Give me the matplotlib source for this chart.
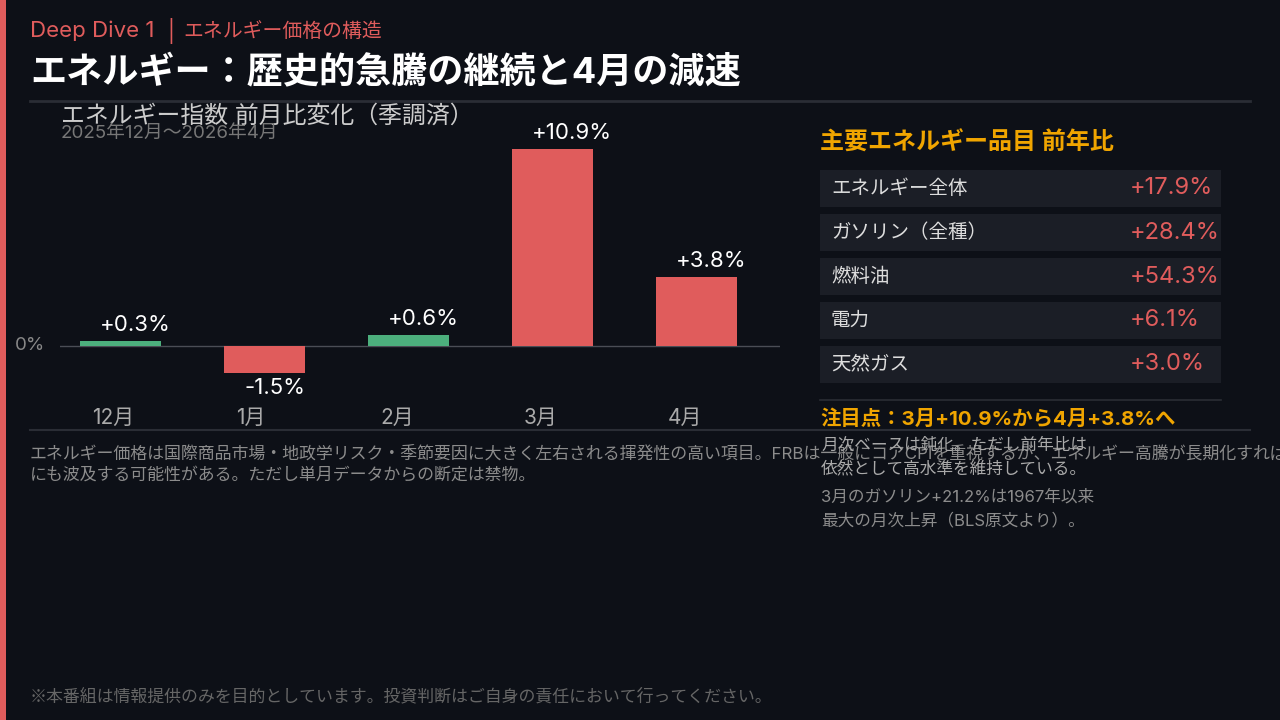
import matplotlib
matplotlib.use("Agg")
import matplotlib.pyplot as plt
from matplotlib.patches import Rectangle
from matplotlib.lines import Line2D
from matplotlib import transforms

plt.rcParams['font.family'] = ['Inter', 'Noto Sans CJK JP', 'DejaVu Sans']
CJK = ['Noto Sans CJK JP', 'DejaVu Sans']

# ---- data ----
months = ['12月', '1月', '2月', '3月', '4月']
mom_change = [0.3, -1.5, 0.6, 10.9, 3.8]
items = ['エネルギー全体', 'ガソリン（全種）', '燃料油', '電力', '天然ガス']
yoy_change = [17.9, 28.4, 54.3, 6.1, 3.0]

# ---- style ----
BG = '#0d1017'
RED = '#e05c5c'
GREEN = '#4caf7d'
ORANGE = '#f0a500'
LINE = '#2a2d35'
bar_colors = [GREEN, RED, GREEN, RED, RED]

W, H = 1280, 720
fig = plt.figure(figsize=(12.8, 7.2), dpi=100, facecolor=BG)


def fx(x):
    return x / W


def fy(y):
    return 1 - y / H


def ftext(x, y, s, **kw):
    kw.setdefault('va', 'center')
    kw.setdefault('ha', 'left')
    return fig.text(fx(x), fy(y), s, **kw)


def hline(x0, x1, y, color=LINE, lw=1.5):
    fig.add_artist(Line2D([fx(x0), fx(x1)], [fy(y), fy(y)], color=color, lw=lw,
                          transform=fig.transFigure))


# left accent strip
fig.add_artist(Rectangle((0, 0), fx(6), 1, transform=fig.transFigure,
                         facecolor=RED, edgecolor='none'))

# header
ftext(30, 31, 'Deep Dive 1', color=RED, fontsize=16)
ftext(167, 31, '|', color=RED, fontsize=15)
ftext(183, 31, 'エネルギー価格の構造', color=RED, fontsize=14.3, family=CJK)
ftext(30, 73, 'エネルギー：歴史的急騰の継続と4月の減速', color='white',
      fontsize=26, fontweight='bold')
hline(30, 1250, 101, lw=2)

# ---- bar chart ----
ax_l, ax_r, ax_t, ax_b = 60, 780, 140, 400
ax = fig.add_axes([fx(ax_l), fy(ax_b), fx(ax_r - ax_l), (ax_b - ax_t) / H])
ax.set_facecolor('none')
px_per_cat = 144.0
zero_y = 346.0
px_per_unit = 197.0 / 10.9
ax.set_xlim(-(120 - ax_l) / px_per_cat, 4 + (ax_r - 696) / px_per_cat)
ax.set_ylim(-(ax_b - zero_y) / px_per_unit, (zero_y - ax_t) / px_per_unit)
for s in ax.spines.values():
    s.set_visible(False)
ax.set_xticks([])
ax.set_yticks([])

xs = list(range(len(months)))
ax.bar(xs, mom_change, width=81 / px_per_cat, color=bar_colors, zorder=2)
ax.axhline(0, color='#4a4d55', lw=1, zorder=1)

for i, v in enumerate(mom_change):
    off = 16 if v >= 0 else -15
    tr = transforms.offset_copy(ax.transData, fig=fig, x=0, y=off, units='dots')
    ax.text(i - 20 / px_per_cat, v, f'{v:+.1f}%', transform=tr, color='white',
            fontsize=16, ha='left', va='center', clip_on=False)

btr = transforms.blended_transform_factory(ax.transData, fig.transFigure)
for i, m in enumerate(months):
    ax.text(i - 28 / px_per_cat, fy(418), m, transform=btr, color='#aaaaaa',
            fontsize=15, ha='left', va='center', clip_on=False)

ftext(15, 345, '0%', color='#888888', fontsize=13.5)
ftext(61, 116, 'エネルギー指数 前月比変化（季調済）', color='#cccccc', fontsize=17.2)
ftext(61, 133, '2025年12月〜2026年4月', color='#777777', fontsize=13.5)

# ---- right panel ----
ftext(820, 143, '主要エネルギー品目 前年比', color=ORANGE, fontsize=17.3, fontweight='bold')
for k, (name, val) in enumerate(zip(items, yoy_change)):
    top = 170 + 44 * k
    fig.add_artist(Rectangle((fx(820), fy(top + 37)), fx(401), 37 / H,
                             transform=fig.transFigure, facecolor='#1b1e26',
                             edgecolor='none'))
    ftext(831, top + 18.5, name, color='#dddddd', fontsize=14)
    ftext(1130, top + 18.5, f'{val:+.1f}%', color=RED, fontsize=17)

hline(820, 1221, 400, lw=1.2)
ftext(820, 419, '注目点：3月+10.9%から4月+3.8%へ', color=ORANGE, fontsize=14.7,
      fontweight='bold')
hline(30, 1250, 430, lw=1.5)

# left paragraph
ftext(30, 453, 'エネルギー価格は国際商品市場・地政学リスク・季節要因に大きく左右される揮発性の高い項目。'
      'FRBは一般にコアCPIを重視するが、エネルギー高騰が長期化すれば', color='#8c8c8c', fontsize=12.2)
ftext(30, 475, 'にも波及する可能性がある。ただし単月データからの断定は禁物。', color='#8c8c8c', fontsize=12.2)

# right notes
ftext(821, 445, '月次ベースは鈍化。ただし前年比は', color='#aaaaaa', fontsize=12)
ftext(821, 469, '依然として高水準を維持している。', color='#aaaaaa', fontsize=12)
ftext(821, 497, '3月のガソリン+21.2%は1967年以来', color='#8c8c8c', fontsize=12)
ftext(821, 520, '最大の月次上昇（BLS原文より）。', color='#8c8c8c', fontsize=12)

# footer
ftext(30, 696, '※本番組は情報提供のみを目的としています。投資判断はご自身の責任において行ってください。',
      color='#666666', fontsize=12.2, family=CJK)

fig.savefig('out.png', dpi=100, facecolor=BG)
